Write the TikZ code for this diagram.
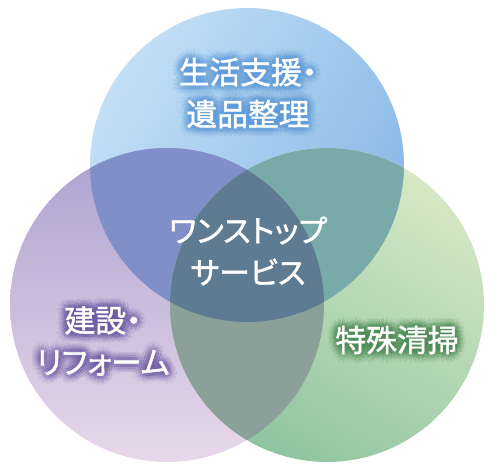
\documentclass[tikz,border=0pt]{standalone}
\usepackage{fontspec}
\newfontfamily\jp{Noto Sans CJK JP}[RawFeature=+palt, FakeBold=1.4]
\definecolor{topA}{HTML}{C2DFF6}
\definecolor{topB}{HTML}{88B8E6}
\definecolor{leftA}{HTML}{ACA2D0}
\definecolor{leftB}{HTML}{E8D8EA}
\definecolor{rightA}{HTML}{D6E8C6}
\definecolor{rightB}{HTML}{90C4A0}
\definecolor{TL}{HTML}{808FC8}
\definecolor{TR}{HTML}{78AAAA}
\definecolor{LR}{HTML}{8AA098}
\definecolor{TLR}{HTML}{5E7B91}
\definecolor{glowT}{HTML}{5E9CDA}
\definecolor{glowL}{HTML}{6C5AA4}
\definecolor{glowR}{HTML}{4E8C58}
\tikzset{
  lbl/.style={text=white, font=\jp\fontsize{17.5}{23.8}\selectfont, align=center, inner sep=0pt},
}
\newcommand{\glowtext}[4]{% name, position, color, text
  \foreach \r/\o in {5/0.08,3.5/0.11,2/0.15}{
    \foreach \a in {0,30,...,330}{
      \node[lbl, text=#3, text opacity=\o, xshift={\r*cos(\a)*1pt}, yshift={\r*sin(\a)*1pt}] at #2 {#4};
    }
  }
  \node[lbl] (#1) at #2 {#4};
}
\begin{document}
\begin{tikzpicture}[x=0.02cm,y=-0.02cm]
\useasboundingbox (0,0) rectangle (500,469);
\coordinate (T) at (247,165);
\coordinate (L) at (167,305);
\coordinate (R) at (327,305);
\def\rad{3.14cm}
% circles
\shade[top color=topA, bottom color=topB, shading angle=60] (T) circle[radius=\rad];
\shade[top color=leftA, bottom color=leftB] (L) circle[radius=\rad];
\shade[top color=rightA, bottom color=rightB, shading angle=-30] (R) circle[radius=\rad];
% pairwise overlaps
\begin{scope}
  \clip (T) circle[radius=\rad];
  \fill[TL] (L) circle[radius=\rad];
  \fill[TR] (R) circle[radius=\rad];
\end{scope}
\begin{scope}
  \clip (L) circle[radius=\rad];
  \fill[LR] (R) circle[radius=\rad];
\end{scope}
\begin{scope}
  \clip (T) circle[radius=\rad];
  \clip (L) circle[radius=\rad];
  \fill[TLR] (R) circle[radius=\rad];
\end{scope}
% labels
\glowtext{top}{(248,93)}{glowT}{生活支援・\\遺品整理}
\glowtext{left}{(103,341)}{glowL}{建設・\\リフォーム}
\glowtext{right}{(397,340)}{glowR}{特殊清掃}
\node[lbl] (center) at (248,251) {ワンストップ\\サービス};
\end{tikzpicture}
\end{document}
